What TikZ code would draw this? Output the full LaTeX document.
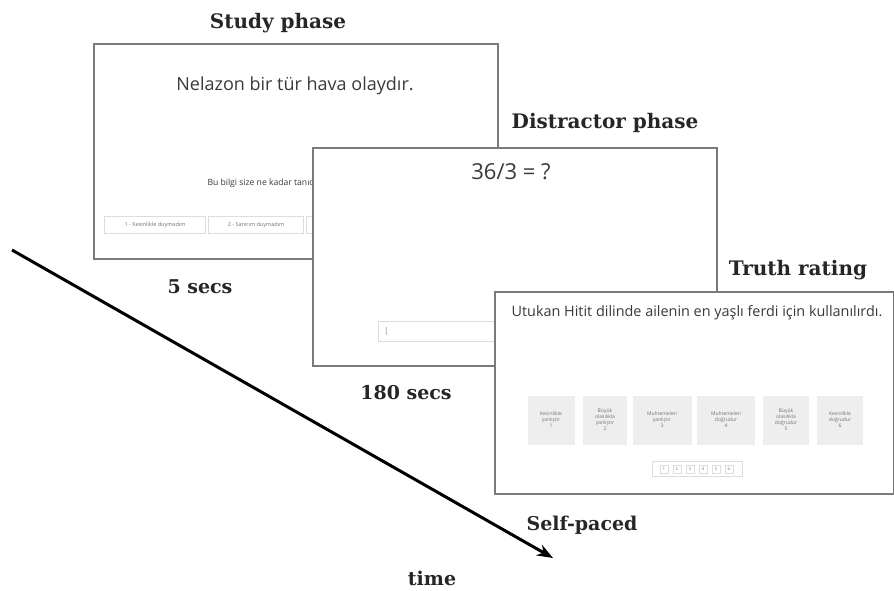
\documentclass[tikz,border=0pt]{standalone}
\usepackage{fontspec}
\setmainfont{DejaVu Serif}
\newfontfamily\screenfont{Open Sans}
\usetikzlibrary{arrows.meta}
\definecolor{frame}{HTML}{7A7A7A}
\definecolor{screentext}{HTML}{3A3A3A}
\definecolor{btnfill}{HTML}{EEEEEE}
\definecolor{btnline}{HTML}{DADDE2}
\begin{document}
\begin{tikzpicture}[x=1pt,y=-1pt,
  screen/.style={draw=frame,line width=1.8pt,fill=white,anchor=north west,inner sep=0pt},
  phase/.style={font=\bfseries\fontsize{20}{22}\selectfont,text=black!85},
  dur/.style={font=\bfseries\fontsize{19}{21}\selectfont,text=black!85},
  stext/.style={font=\screenfont,text=screentext},
  sbtn/.style={draw=btnline,line width=0.6pt,fill=white,minimum height=17pt,font=\screenfont\fontsize{5.5}{6.5}\selectfont,text=gray!90!black,inner sep=1pt},
  rbtn/.style={fill=btnfill,minimum height=49pt,align=center,font=\screenfont\fontsize{5}{6}\selectfont,text=gray!90!black,inner sep=1pt},
  pg/.style={draw=btnline,line width=0.5pt,minimum size=8pt,inner sep=0pt,font=\screenfont\fontsize{4.5}{5}\selectfont,text=gray}]
\useasboundingbox (0,0) rectangle (894,590);
\fill[white] (0,0) rectangle (894,590);

% Study phase screen
\node[screen,minimum width=404pt,minimum height=215pt] (study) at (93,43) {};
\node[stext,font=\screenfont\fontsize{18}{20}\selectfont] (studytxt) at (295,86) {Nelazon bir tür hava olaydır.};
\node[stext,font=\screenfont\fontsize{8.6}{10}\selectfont,anchor=west] (studyq) at (204,183) {Bu bilgi size ne kadar tanıdık geliyor?};
\node[sbtn,minimum width=101pt] (sb1) at (155,225) {1 - Kesinlikle duymadım};
\node[sbtn,minimum width=95pt] (sb2) at (256,225) {2 - Sanırım duymadım};
\node[sbtn,minimum width=95pt] (sb3) at (354,225) {3 - Emin değilim};

% Distractor phase screen
\node[screen,minimum width=404pt,minimum height=218pt] (dist) at (312,147) {};
\node[stext,font=\screenfont\fontsize{22}{24}\selectfont] (disttxt) at (511,172) {36/3 = ?};
\node[draw=btnline,line width=1pt,fill=white,anchor=west,minimum width=150pt,minimum height=20pt,inner sep=0pt] (input) at (378,331) {};
\node[font=\screenfont\fontsize{8}{9}\selectfont,text=gray,anchor=west,inner sep=0pt] (cursor) at (384,331) {|};

% Truth rating screen
\node[screen,minimum width=399pt,minimum height=202pt] (truth) at (494,291) {};
\node[stext,font=\screenfont\fontsize{14.4}{16}\selectfont] (truthtxt) at (697,313) {Utukan Hitit dilinde ailenin en yaşlı ferdi için kullanılırdı.};
\node[rbtn,minimum width=47pt] (r1) at (551,420) {Kesinlikle\\yanlıştır\\1};
\node[rbtn,minimum width=44pt] (r2) at (605,420) {Büyük\\olasılıkla\\yanlıştır\\2};
\node[rbtn,minimum width=59pt] (r3) at (662,420) {Muhtemelen\\yanlıştır\\3};
\node[rbtn,minimum width=58pt] (r4) at (726,420) {Muhtemelen\\doğrudur\\4};
\node[rbtn,minimum width=46pt] (r5) at (786,420) {Büyük\\olasılıkla\\doğrudur\\5};
\node[rbtn,minimum width=46pt] (r6) at (840,420) {Kesinlikle\\doğrudur\\6};
\node[draw=btnline,line width=0.5pt,minimum width=90pt,minimum height=15pt,inner sep=0pt] (pager) at (697,469) {};
\foreach \i/\x in {1/664,2/677,3/690,4/703,5/716,6/729}{
  \node[pg] (p\i) at (\x,469) {\i};
}

% Labels
\node[phase] (lstudy) at (278,23) {Study phase};
\node[phase] (ldist) at (605,123) {Distractor phase};
\node[phase] (ltruth) at (798,270) {Truth rating};
\node[dur] (l5) at (200,287) {5 secs};
\node[dur] (l180) at (406,393) {180 secs};
\node[dur] (lself) at (582,525) {Self-paced};
\node[dur] (ltime) at (432,578) {time};

% Time arrow
\coordinate (ts) at (12,250);
\coordinate (te) at (553,558);
\draw[line width=3pt,-{Stealth[length=16pt,width=12pt]}] (ts) -- (te);
\end{tikzpicture}
\end{document}
